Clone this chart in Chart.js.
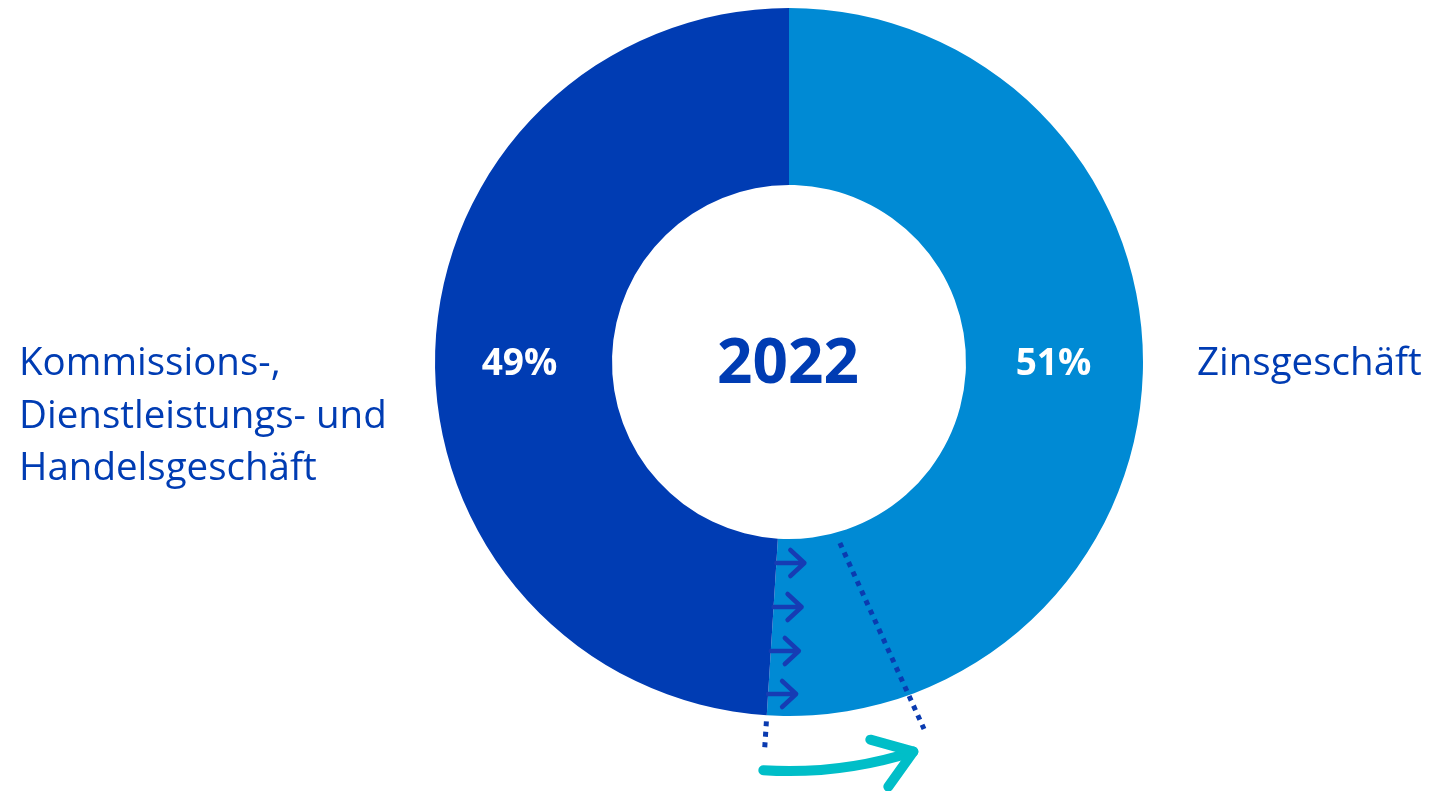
<!DOCTYPE html>
<html>
<head>
<meta charset="utf-8">
<script src="https://cdn.jsdelivr.net/npm/chart.js@4"></script>
<style>
  body { margin: 0; background: #fff; }
  .wrap { position: relative; width: 1431px; height: 791px; }
</style>
</head>
<body>
<div class="wrap"><canvas id="shareChart"></canvas></div>
<script>
// Data
const labels = ["Zinsgeschäft", "Kommissions-, Dienstleistungs- und Handelsgeschäft"];
const shares = [51, 49];
const year = "2022";
const sideLabels = [["Zinsgeschäft"], ["Kommissions-,", "Dienstleistungs- und", "Handelsgeschäft"]];

const darkBlue = "#003cb3";
const lightBlue = "#008ad4";
const teal = "#00bec8";
const fontFamily = "'Open Sans', 'Noto Sans', sans-serif";

// Draw center year, percent labels, side labels and the shift arrows
const decorPlugin = {
  id: "decor",
  afterDraw(chart) {
    const ctx = chart.ctx;
    const meta = chart.getDatasetMeta(0);
    const arc = meta.data[0];
    const cx = arc.x, cy = arc.y;
    const rIn = arc.innerRadius, rOut = arc.outerRadius;
    const rMid = (rIn + rOut) / 2;
    const boundary = arc.endAngle; // canvas angle of the 51/49 border
    const pt = (ang, r) => [cx + Math.cos(ang) * r, cy + Math.sin(ang) * r];
    const deg = (d) => (d - 90) * Math.PI / 180; // clockwise-from-top -> canvas

    ctx.save();
    // Year in the middle
    ctx.fillStyle = darkBlue;
    ctx.font = "bold 62px " + fontFamily;
    ctx.textAlign = "center";
    ctx.textBaseline = "middle";
    ctx.fillText(year, cx - 1, cy + 3);

    // Percent labels
    ctx.fillStyle = "#ffffff";
    ctx.font = "bold 37px " + fontFamily;
    ctx.fillText(shares[0] + "%", cx + rMid - 1, cy + 2);
    ctx.fillText(shares[1] + "%", cx - rMid - 4, cy + 2);

    // Side labels
    ctx.fillStyle = darkBlue;
    ctx.font = "38.5px " + fontFamily;
    ctx.textBaseline = "alphabetic";
    ctx.textAlign = "left";
    sideLabels[0].forEach((t, i) => ctx.fillText(t, cx + rOut + 54, cy + 13 + i * 52.5));
    sideLabels[1].forEach((t, i) => ctx.fillText(t, 19, cy + 13 + i * 52.5));

    // Chevron arrows along the border
    ctx.strokeStyle = "#163cb4";
    ctx.lineWidth = 4.5;
    ctx.lineCap = "round";
    ctx.lineJoin = "round";
    [201, 245, 289, 332].forEach((dy) => {
      const x0 = cx + dy * Math.cos(boundary) / Math.sin(boundary);
      const y0 = cy + dy;
      ctx.beginPath();
      ctx.moveTo(x0, y0);
      ctx.lineTo(x0 + 28, y0);
      ctx.moveTo(x0 + 14, y0 - 13);
      ctx.lineTo(x0 + 28, y0);
      ctx.lineTo(x0 + 14, y0 + 13);
      ctx.stroke();
    });

    // Dotted lines
    ctx.strokeStyle = "#0a3bb0";
    ctx.lineWidth = 5;
    ctx.lineCap = "butt";
    ctx.setLineDash([5, 5.5]);
    let a = pt(deg(164.3), 188), b = pt(deg(159.8), 391);
    ctx.beginPath(); ctx.moveTo(a[0], a[1]); ctx.lineTo(b[0], b[1]); ctx.stroke();
    a = pt(boundary, rOut + 6); b = pt(boundary, rOut + 34);
    ctx.beginPath(); ctx.moveTo(a[0], a[1]); ctx.lineTo(b[0], b[1]); ctx.stroke();
    ctx.setLineDash([]);

    // Teal curved arrow
    const rArr = 409;
    const endA = deg(162.3);
    ctx.strokeStyle = teal;
    ctx.lineWidth = 10;
    ctx.lineCap = "round";
    ctx.lineJoin = "round";
    ctx.beginPath();
    ctx.arc(cx, cy, rArr, boundary, endA, true);
    ctx.stroke();
    const tip = pt(endA, rArr);
    ctx.beginPath();
    ctx.moveTo(tip[0] - 43, tip[1] - 12);
    ctx.lineTo(tip[0], tip[1]);
    ctx.lineTo(tip[0] - 25, tip[1] + 35);
    ctx.stroke();
    ctx.restore();
  }
};

new Chart(document.getElementById("shareChart"), {
  type: "doughnut",
  data: {
    labels: labels,
    datasets: [{
      data: shares,
      backgroundColor: [lightBlue, darkBlue],
      borderWidth: 0,
      hoverOffset: 0
    }]
  },
  options: {
    responsive: true,
    maintainAspectRatio: false,
    animation: false,
    cutout: "50%",
    layout: { padding: { top: 8, bottom: 75, left: 435, right: 288 } },
    plugins: {
      legend: { display: false },
      tooltip: { enabled: false }
    }
  },
  plugins: [decorPlugin]
});
</script>
</body>
</html>
